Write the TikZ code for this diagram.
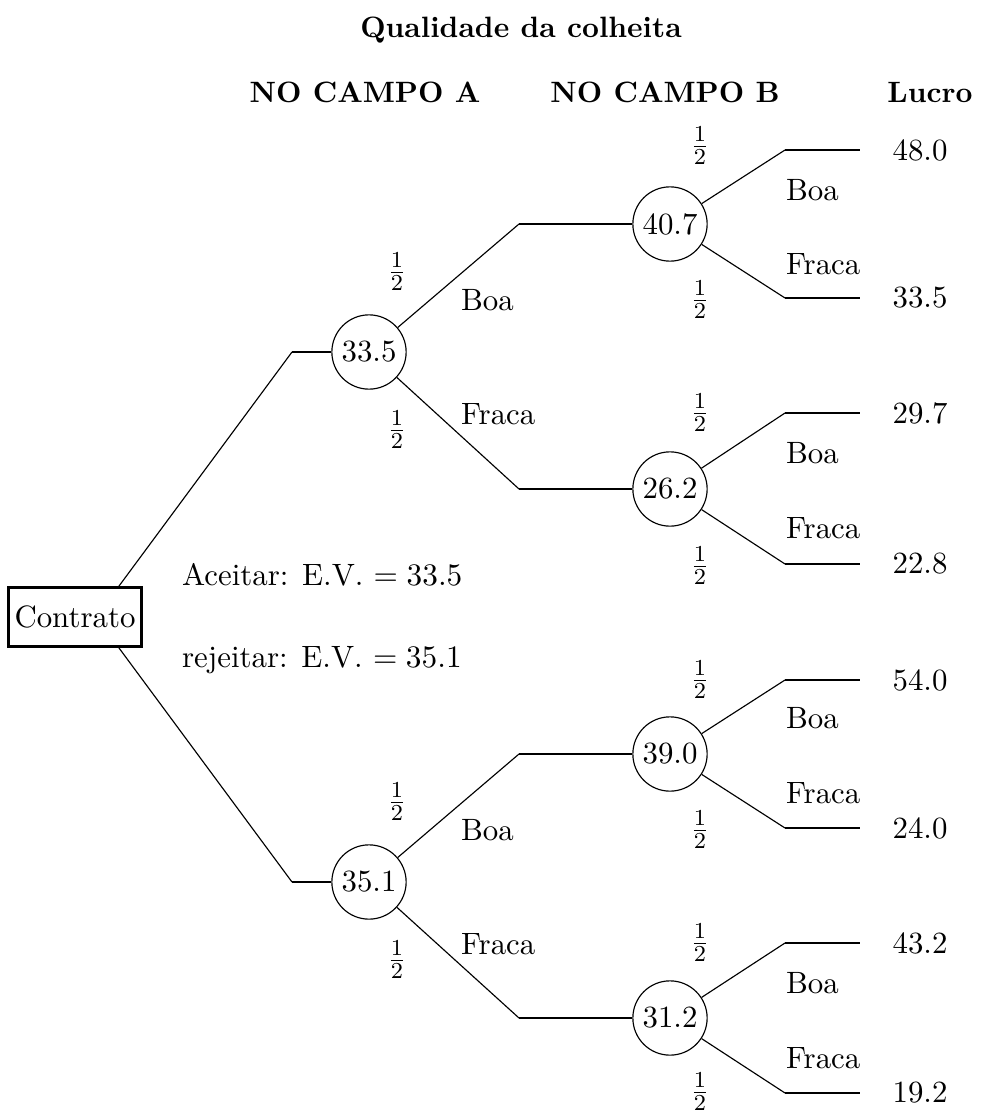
\documentclass[tikz,border=0pt]{standalone}
\usepackage{amsmath}
\usepackage{amssymb}
\usepackage{tikz}
\usetikzlibrary{positioning}

\begin{document}
\begin{tikzpicture}[x=0.35pt, y=-0.35pt,
    every node/.style={font=\fontsize{10.8}{13}\selectfont},
    head/.style={font=\fontsize{10.3}{12}\selectfont\bfseries},
    prob/.style={inner sep=0pt},
    chance/.style={draw, circle, minimum size=26pt, inner sep=1pt},
    decision/.style={draw, line width=0.9pt, minimum width=46.5pt, minimum height=20.5pt, inner sep=1.5pt},
    branch/.style={line width=0.4pt},
    stem/.style={line width=1pt}]

            \useasboundingbox (0,0) rectangle (985,1114);

            \node[head] (T) at (521,30) {Qualidade da colheita};
            \node[head] (HA) at (365,92) {NO CAMPO A};
            \node[head] (HB) at (665,92) {NO CAMPO B};
            \node[head] (HL) at (930,92) {Lucro};

            \node[decision] (K) at (75,617) {Contrato};
            \node[anchor=west] (Ac) at (172,575) {Aceitar: E.V. $=33.5$};
            \node[anchor=west] (Rj) at (172,660) {rejeitar: E.V. $=35.1$};

            \node[chance] (A) at (369,352) {33.5};
            \node[chance] (R) at (369,882) {35.1};

            \node[chance] (A1) at (670,224) {40.7};
            \node[chance] (A2) at (670,489) {26.2};
            \node[chance] (R1) at (670,754) {39.0};
            \node[chance] (R2) at (670,1018) {31.2};

            % bends
            \coordinate (a0) at (292,352);
            \coordinate (r0) at (292,882);
            \coordinate (a1) at (519,224);
            \coordinate (a2) at (519,489);
            \coordinate (r1) at (519,754);
            \coordinate (r2) at (519,1018);

            \coordinate (a11) at (785,150);  \coordinate (e11) at (860,150);
            \coordinate (a12) at (785,298);  \coordinate (e12) at (860,298);
            \coordinate (a21) at (785,413);  \coordinate (e21) at (860,413);
            \coordinate (a22) at (785,564);  \coordinate (e22) at (860,564);
            \coordinate (r11) at (785,680);  \coordinate (f11) at (860,680);
            \coordinate (r12) at (785,828);  \coordinate (f12) at (860,828);
            \coordinate (r21) at (785,943);  \coordinate (f21) at (860,943);
            \coordinate (r22) at (785,1093); \coordinate (f22) at (860,1093);

            % profits
            \node (L11) at (920,150) {48.0};
            \node (L12) at (920,298) {33.5};
            \node (L21) at (920,413) {29.7};
            \node (L22) at (920,564) {22.8};
            \node (L31) at (920,680) {54.0};
            \node (L32) at (920,828) {24.0};
            \node (L41) at (920,943) {43.2};
            \node (L42) at (920,1093) {19.2};

            \path[branch]
                ([xshift=-8.4pt]K.north east) edge (a0)
                ([xshift=-8.4pt]K.south east) edge (r0)
                (A) edge (a1)
                    edge (a2)
                (R) edge (r1)
                    edge (r2)
                (A1) edge (a11)
                     edge (a12)
                (A2) edge (a21)
                     edge (a22)
                (R1) edge (r11)
                     edge (r12)
                (R2) edge (r21)
                     edge (r22);

            \path[stem]
                (a0) edge (A)
                (r0) edge (R)
                (a1) edge (A1)
                (a2) edge (A2)
                (r1) edge (R1)
                (r2) edge (R2)
                (a11) edge (e11)
                (a12) edge (e12)
                (a21) edge (e21)
                (a22) edge (e22)
                (r11) edge (f11)
                (r12) edge (f12)
                (r21) edge (f21)
                (r22) edge (f22);

            % probabilities and outcomes
            \node[prob] at (397,272) {$\frac{1}{2}$};
            \node[prob] at (397,430) {$\frac{1}{2}$};
            \node[prob] at (397,802) {$\frac{1}{2}$};
            \node[prob] at (397,960) {$\frac{1}{2}$};
            \node[anchor=west] at (451,300) {Boa};
            \node[anchor=west] at (451,414) {Fraca};
            \node[anchor=west] at (451,830) {Boa};
            \node[anchor=west] at (451,944) {Fraca};

            \node[prob] at (700,146) {$\frac{1}{2}$};
            \node[prob] at (700,300) {$\frac{1}{2}$};
            \node[prob] at (700,413) {$\frac{1}{2}$};
            \node[prob] at (700,566) {$\frac{1}{2}$};
            \node[prob] at (700,680) {$\frac{1}{2}$};
            \node[prob] at (700,830) {$\frac{1}{2}$};
            \node[prob] at (700,943) {$\frac{1}{2}$};
            \node[prob] at (700,1092) {$\frac{1}{2}$};

            \node[anchor=west] at (776,190) {Boa};
            \node[anchor=west] at (776,264) {Fraca};
            \node[anchor=west] at (776,453) {Boa};
            \node[anchor=west] at (776,528) {Fraca};
            \node[anchor=west] at (776,718) {Boa};
            \node[anchor=west] at (776,793) {Fraca};
            \node[anchor=west] at (776,983) {Boa};
            \node[anchor=west] at (776,1058) {Fraca};
\end{tikzpicture}
\end{document}
